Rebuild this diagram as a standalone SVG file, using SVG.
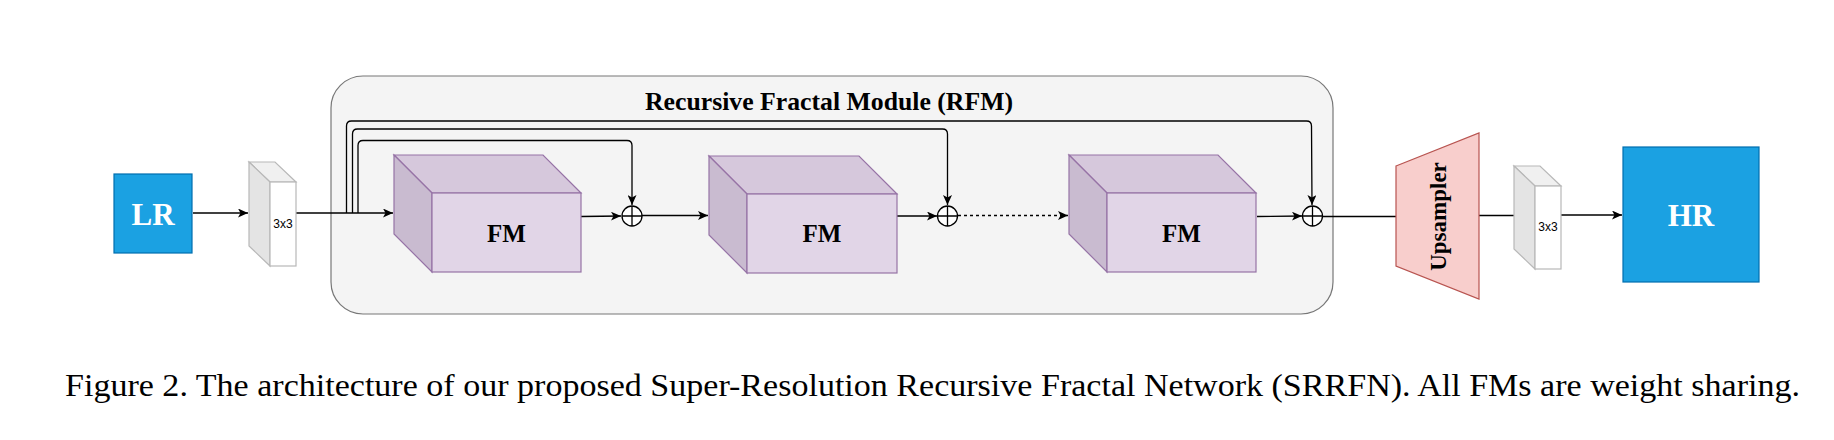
<svg xmlns="http://www.w3.org/2000/svg" width="1834" height="440" viewBox="0 0 1834 440">
<style>
.line{fill:none;stroke:#000;stroke-width:1.3}
.blue{fill:#1ba1e2;stroke:#006eaf;stroke-width:1.2}
.fmf{fill:#e1d5e7;stroke:#9673a6;stroke-width:1.2}
.fmt{fill:#d6c8dc;stroke:#9673a6;stroke-width:1.2}
.fms{fill:#c9bbd0;stroke:#9673a6;stroke-width:1.2}
.cvf{fill:#fff;stroke:#b8b8b8;stroke-width:1.2}
.cvt{fill:#f0f0f0;stroke:#b8b8b8;stroke-width:1.2}
.cvs{fill:#e4e4e4;stroke:#b8b8b8;stroke-width:1.2}
.b{font-family:"Liberation Serif","Times New Roman",serif;font-weight:bold}
.s{font-family:"Liberation Sans",Arial,sans-serif;font-size:12px;fill:#000}
.plus{fill:#fff;stroke:#000;stroke-width:1.3}
</style>
<defs>
<marker id="arr" markerUnits="userSpaceOnUse" markerWidth="11" markerHeight="9" refX="10" refY="4.5" orient="auto">
<path d="M0,0 L10,4.5 L0,9 L2.5,4.5 z" fill="#000"/>
</marker>
</defs>

<g id="rfm">
<rect x="331" y="76" width="1002" height="238" rx="32" ry="32" fill="#f4f4f4" stroke="#777" stroke-width="1.2"/>
<text class="b" x="829" y="110" font-size="25" text-anchor="middle" textLength="368" lengthAdjust="spacingAndGlyphs">Recursive Fractal Module (RFM)</text>
</g>

<g id="connectors">
<path class="line" d="M193,213 L248,213" marker-end="url(#arr)"/>
<path class="line" d="M296,213 L393,213" marker-end="url(#arr)"/>
<path class="line" d="M581,216.5 L621,216" marker-end="url(#arr)"/>
<path class="line" d="M642,215.5 L708,215.5" marker-end="url(#arr)"/>
<path class="line" d="M897,216 L937,216" marker-end="url(#arr)"/>
<path class="line" d="M958,215.5 L1068,215.5" stroke-dasharray="3,3" marker-end="url(#arr)"/>
<path class="line" d="M1257,216.5 L1302,216" marker-end="url(#arr)"/>
<path class="line" d="M1323,216.5 L1396,216.5" stroke="#333"/>
<path class="line" d="M1479,215.5 L1514,215.5" stroke="#333"/>
<path class="line" d="M1561,215 L1622,215" marker-end="url(#arr)"/>
<path class="line" d="M346.5,213 L346.5,126 Q346.5,121 351.5,121 L1306.5,121 Q1311.5,121 1311.5,126 L1312,205" marker-end="url(#arr)"/>
<path class="line" d="M352.5,213 L352.5,134 Q352.5,129 357.5,129 L942.5,129 Q947.5,129 947.5,134 L947.5,205" marker-end="url(#arr)"/>
<path class="line" d="M358,213 L358,145.5 Q358,140.5 363,140.5 L627,140.5 Q632,140.5 632,145.5 L632,205" marker-end="url(#arr)"/>
</g>

<g id="lr">
<rect class="blue" x="114" y="174" width="78" height="79"/>
<text class="b" x="153" y="225" font-size="31" fill="#fff" text-anchor="middle">LR</text>
</g>

<g id="conv1">
<polygon class="cvt" points="249,162 275,162 296,182 270,182"/>
<polygon class="cvs" points="249,162 270,182 270,266 249,246"/>
<rect class="cvf" x="270" y="182" width="26" height="84"/>
<text class="s" x="283" y="228" text-anchor="middle">3x3</text>
</g>

<g id="fm1">
<polygon class="fmt" points="394,155 543,155 581,193 432,193"/>
<polygon class="fms" points="394,155 432,193 432,272 394,234"/>
<rect class="fmf" x="432" y="193" width="149" height="79"/>
<text class="b" x="506.5" y="241.5" font-size="25" text-anchor="middle">FM</text>
</g>

<g id="plus1">
<circle class="plus" cx="632" cy="216" r="10"/>
<path class="line" d="M622,216 L642,216 M632,206 L632,226"/>
</g>

<g id="fm2">
<polygon class="fmt" points="709,156 859,156 897,194 747,194"/>
<polygon class="fms" points="709,156 747,194 747,273 709,235"/>
<rect class="fmf" x="747" y="194" width="150" height="79"/>
<text class="b" x="822" y="242" font-size="25" text-anchor="middle">FM</text>
</g>

<g id="plus2">
<circle class="plus" cx="947.5" cy="216" r="10"/>
<path class="line" d="M937.5,216 L957.5,216 M947.5,206 L947.5,226"/>
</g>

<g id="fm3">
<polygon class="fmt" points="1069,155 1218,155 1256,193 1107,193"/>
<polygon class="fms" points="1069,155 1107,193 1107,272 1069,234"/>
<rect class="fmf" x="1107" y="193" width="149" height="79"/>
<text class="b" x="1181.5" y="241.5" font-size="25" text-anchor="middle">FM</text>
</g>

<g id="plus3">
<circle class="plus" cx="1312.5" cy="216" r="10"/>
<path class="line" d="M1302.5,216 L1322.5,216 M1312.5,206 L1312.5,226"/>
</g>

<g id="upsampler">
<polygon points="1396,166 1479,133 1479,299 1396,266" fill="#f8cecc" stroke="#b85450" stroke-width="1.2"/>
<text class="b" x="0" y="0" font-size="23" text-anchor="middle" transform="translate(1446,216.5) rotate(-90)">Upsampler</text>
</g>

<g id="conv2">
<polygon class="cvt" points="1514,166 1540,166 1561,186 1535,186"/>
<polygon class="cvs" points="1514,166 1535,186 1535,269 1514,249"/>
<rect class="cvf" x="1535" y="186" width="26" height="83"/>
<text class="s" x="1548" y="231" text-anchor="middle">3x3</text>
</g>

<g id="hr">
<rect class="blue" x="1623" y="147" width="136" height="135"/>
<text class="b" x="1691" y="225.5" font-size="31" fill="#fff" text-anchor="middle">HR</text>
</g>

<text x="65" y="396" font-family="'Liberation Serif','Times New Roman',serif" font-size="32" fill="#000" textLength="1735" lengthAdjust="spacingAndGlyphs">Figure 2. The architecture of our proposed Super-Resolution Recursive Fractal Network (SRRFN). All FMs are weight sharing.</text>
</svg>
